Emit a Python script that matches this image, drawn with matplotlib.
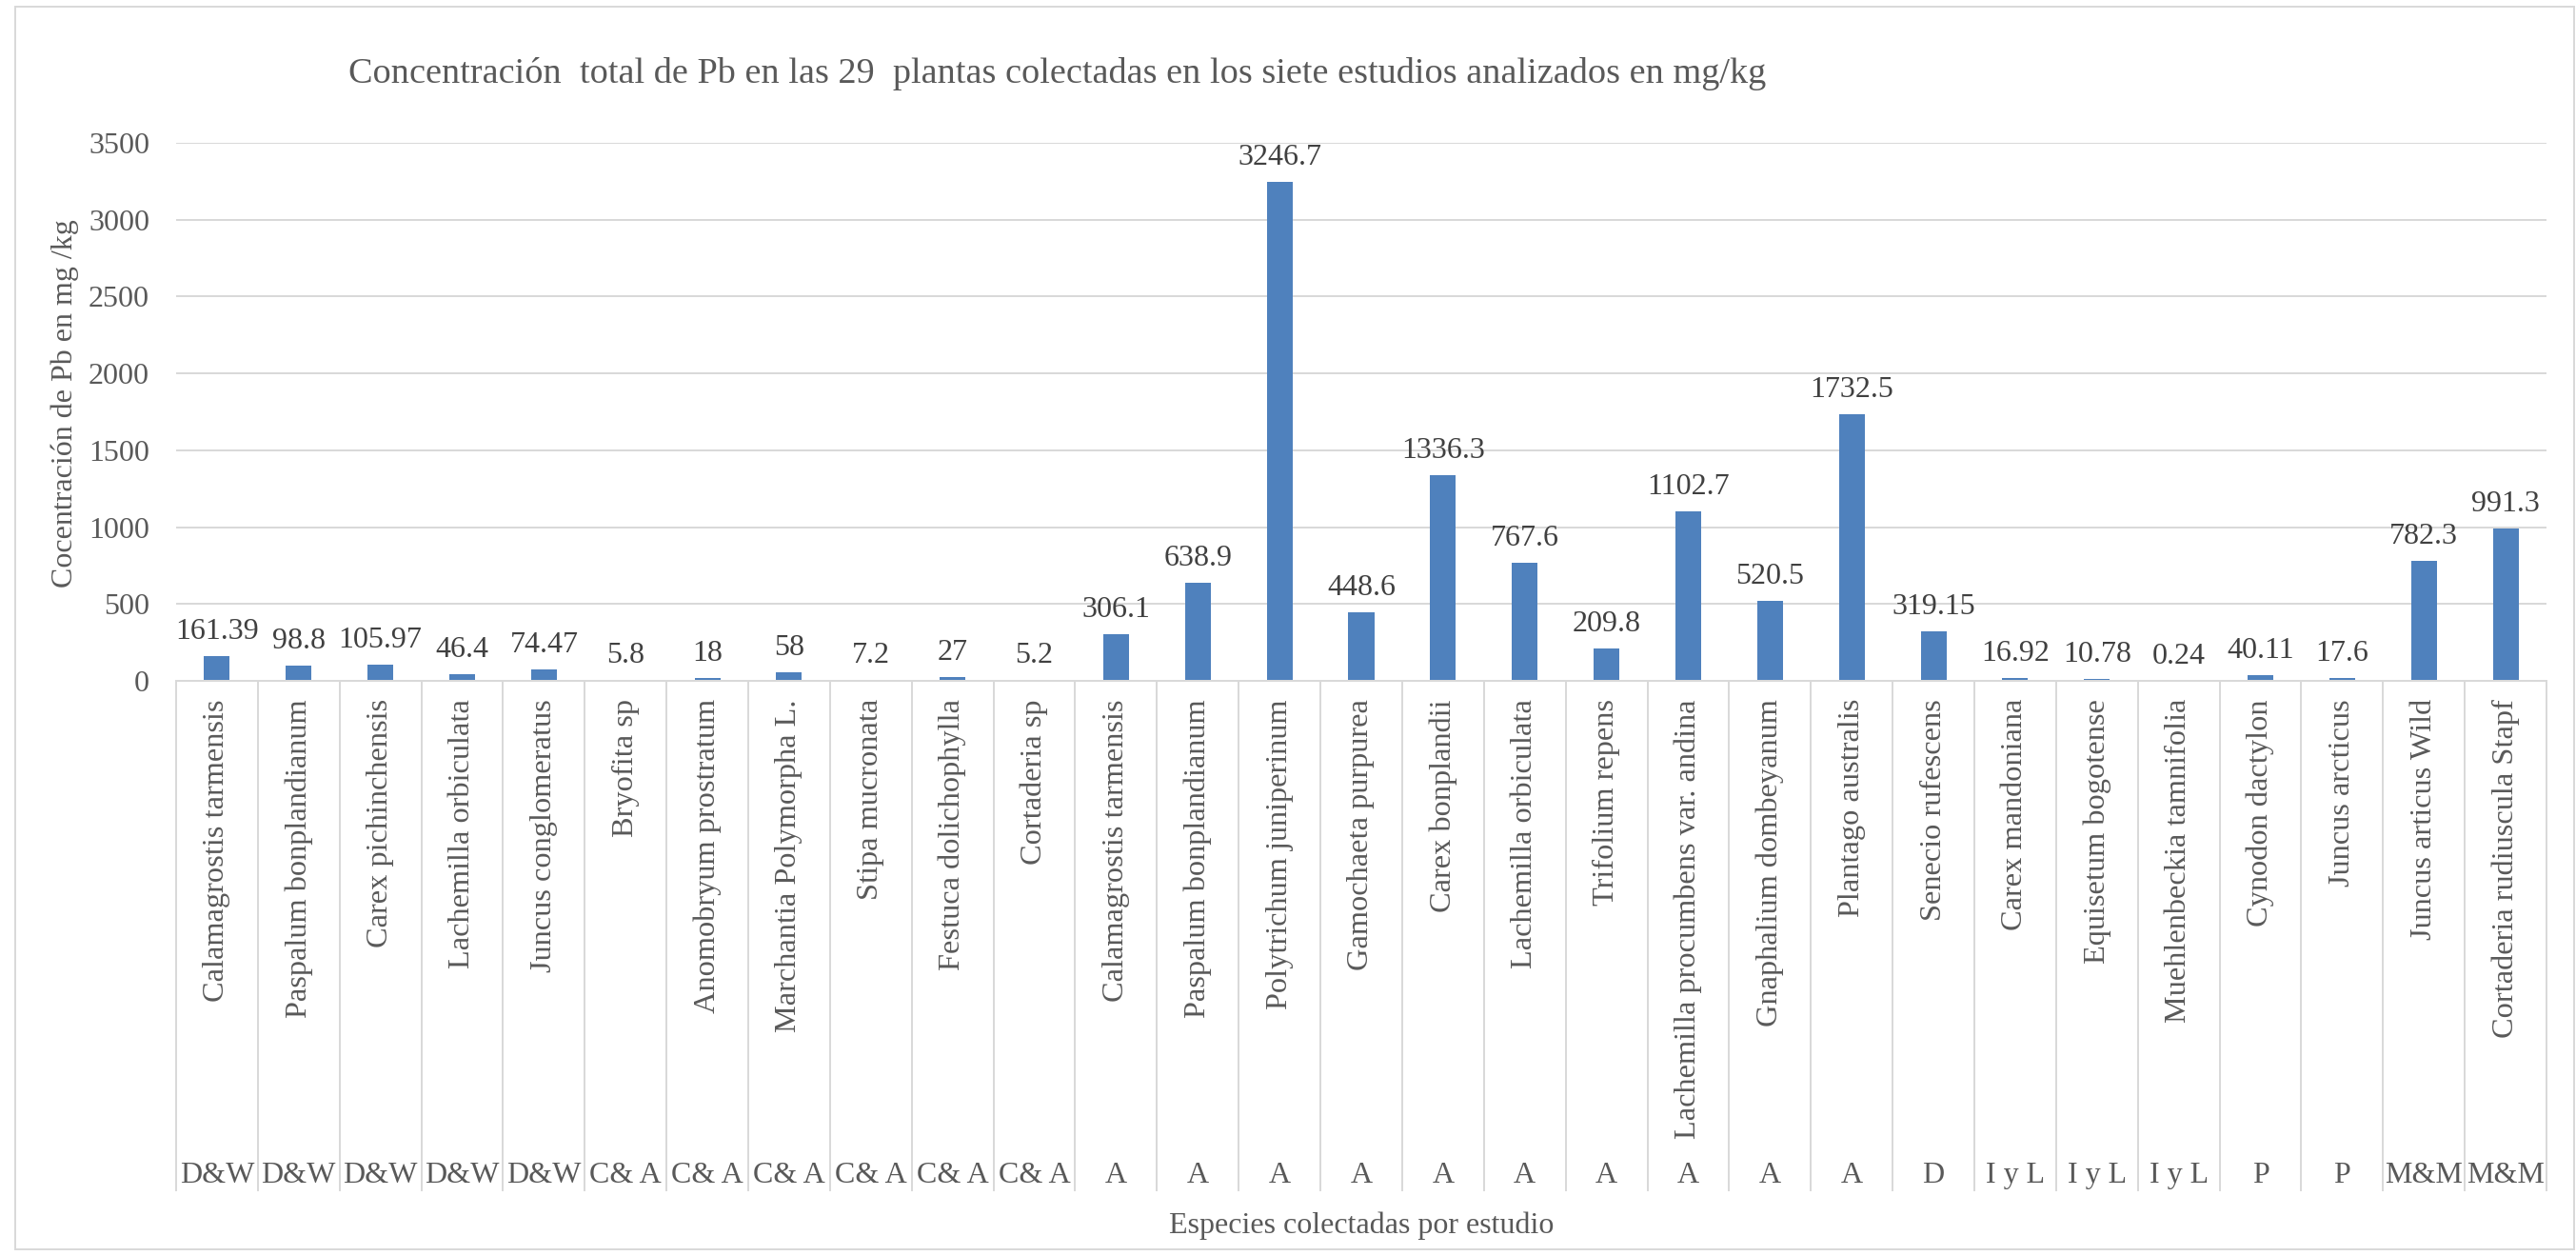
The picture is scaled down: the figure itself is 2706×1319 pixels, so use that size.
import matplotlib
matplotlib.use("Agg")
import matplotlib.pyplot as plt
from matplotlib.transforms import blended_transform_factory
from matplotlib.patches import Rectangle

plt.rcParams["font.family"] = ["Liberation Serif", "DejaVu Serif"]

# Plant species, study of origin and total Pb (mg/kg)
species = [
    "Calamagrostis tarmensis", "Paspalum bonplandianum", "Carex pichinchensis",
    "Lachemilla orbiculata", "Juncus conglomeratus", "Bryofita sp",
    "Anomobryum prostratum", "Marchantia Polymorpha L.", "Stipa mucronata",
    "Festuca dolichophylla", "Cortaderia sp", "Calamagrostis tarmensis",
    "Paspalum bonplandianum", "Polytrichum juniperinum", "Gamochaeta purpurea",
    "Carex bonplandii", "Lachemilla orbiculata", "Trifolium repens",
    "Lachemilla procumbens var. andina", "Gnaphalium dombeyanum",
    "Plantago australis", "Senecio rufescens", "Carex mandoniana",
    "Equisetum bogotense", "Muehlenbeckia tamnifolia", "Cynodon dactylon",
    "Juncus arcticus", "Juncus articus Wild", "Cortaderia rudiuscula Stapf",
]
studies = [
    "D&W", "D&W", "D&W", "D&W", "D&W",
    "C& A", "C& A", "C& A", "C& A", "C& A", "C& A",
    "A", "A", "A", "A", "A", "A", "A", "A", "A", "A",
    "D", "I y L", "I y L", "I y L", "P", "P", "M&M", "M&M",
]
pb_mg_kg = [
    161.39, 98.8, 105.97, 46.4, 74.47, 5.8, 18, 58, 7.2, 27, 5.2,
    306.1, 638.9, 3246.7, 448.6, 1336.3, 767.6, 209.8, 1102.7, 520.5,
    1732.5, 319.15, 16.92, 10.78, 0.24, 40.11, 17.6, 782.3, 991.3,
]
y_ticks = [0, 500, 1000, 1500, 2000, 2500, 3000, 3500]

W, H = 2706, 1319
DPI = 100
PX = 72.0 / DPI  # points per pixel

BAR = "#4F81BD"
GRID = "#D9D9D9"
TXT = "#595959"
LBL = "#404040"
FS = 23

fig = plt.figure(figsize=(W / DPI, H / DPI), dpi=DPI)
fig.patch.set_facecolor("white")

# chart frame
fig.patches.append(Rectangle((16 / W, 1 - 1312 / H), (2704 - 16) / W, (1312 - 7) / H,
                             transform=fig.transFigure, fill=False,
                             edgecolor=GRID, linewidth=2 * PX))

left, right, top, bottom = 185, 2675, 150, 715
ax = fig.add_axes([left / W, 1 - bottom / H, (right - left) / W, (bottom - top) / H])

n = len(species)
x = list(range(n))
ax.bar(x, pb_mg_kg, width=0.315, color=BAR, zorder=3)

ax.set_xlim(-0.5, n - 0.5)
ax.set_ylim(0, 3500)
ax.set_yticks(y_ticks)
ax.set_yticklabels([str(t) for t in y_ticks], fontsize=FS, color=TXT)
ax.tick_params(axis="y", length=0, pad=28 * PX)
ax.set_xticks([])
ax.yaxis.grid(True, color=GRID, linewidth=2 * PX, zorder=0)
ax.set_axisbelow(True)
for s in ("left", "right", "top"):
    ax.spines[s].set_visible(False)
ax.spines["bottom"].set_color(GRID)
ax.spines["bottom"].set_linewidth(2 * PX)
ax.spines["bottom"].set_zorder(4)

# value labels
for i, v in zip(x, pb_mg_kg):
    ax.annotate(f"{v:g}", xy=(i, v), xytext=(0, 18 * PX), textcoords="offset points",
                ha="center", va="baseline", fontsize=FS, color=LBL)

# two-level category axis
trans = blended_transform_factory(ax.transData, ax.transAxes)
span = bottom - top
sep_end = -(1250 - bottom) / span
for k in range(n + 1):
    ax.plot([k - 0.5, k - 0.5], [0, sep_end], transform=trans, color=GRID,
            linewidth=2 * PX, clip_on=False, zorder=1)
for i, (name, st) in enumerate(zip(species, studies)):
    ax.text(i, -19 / span, name, transform=trans, rotation=90, ha="center", va="top",
            fontsize=23.3, color=TXT)
    ax.text(i, -(1242 - bottom) / span, st, transform=trans, ha="center",
            va="baseline", fontsize=FS, color=TXT)

fig.text(1430 / W, 1 - 1295 / H, "Especies colectadas por estudio", ha="center",
         va="baseline", fontsize=FS, color=TXT)
fig.text(68 / W, 1 - 424 / H, "Cocentración de Pb en mg /kg", rotation=90,
         ha="center", va="center", fontsize=FS, color=TXT)
fig.text(1111 / W, 1 - 87 / H,
         "Concentración  total de Pb en las 29  plantas colectadas en los siete estudios analizados en mg/kg",
         ha="center", va="baseline", fontsize=27.5, color=TXT)

fig.savefig("out.png", dpi=DPI, facecolor="white")
